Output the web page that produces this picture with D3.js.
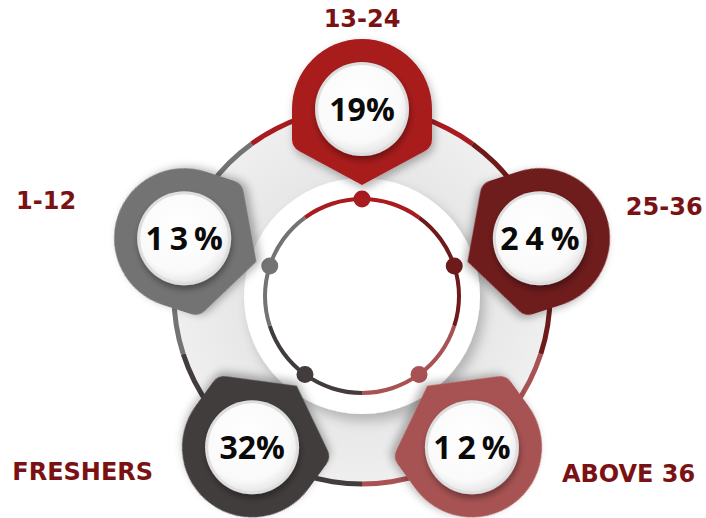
<!DOCTYPE html>
<html>
<head>
<meta charset="utf-8">
<script src="https://cdn.jsdelivr.net/npm/d3@7"></script>
<style>
  html, body { margin: 0; padding: 0; background: #fff; }
  svg { display: block; }
</style>
</head>
<body>
<script>
//============ data =========//
var categories = ['13-24', '25-36', 'ABOVE 36', 'FRESHERS', '1-12'];
var values = [19, 24, 12, 32, 13];

//============ styles / layout =========//
var colors = ['#a81b1e', '#6e1a1a', '#a85253', '#433c3c', '#737373'],
  labelColor = '#7a1214',
  pctSpacing = [0, 7, 6, 0, 6];

// label anchor offsets from badge centre (layout only)
var labelPos = [
  {dx: 0, dy: -91, anchor: 'middle'},
  {dx: 86, dy: -32, anchor: 'start'},
  {dx: 90, dy: 26, anchor: 'start'},
  {dx: -99, dy: 24, anchor: 'end'},
  {dx: -108, dy: -38, anchor: 'end'}
];

var width = 706, height = 518,
  cx = 362, cy = 296,
  ringR = 188,     // outer thin ring, badges sit on it
  discR = 118,     // white inner disc
  innerR = 97,     // inner thin ring with dots
  badgeR = 70,
  whiteR = 44;

var rad = Math.PI / 180;

// angle scale: each category gets a 72deg band, starting at the top
var angle = d3.scaleBand()
  .domain(categories)
  .range([-36, 324]);   // degrees, clockwise from 12 o'clock

function mid(c) { return angle(c) + angle.bandwidth() / 2; }
function pos(c, r) {
  var a = (mid(c) - 90) * rad;
  return [cx + r * Math.cos(a), cy + r * Math.sin(a)];
}

var svg = d3.select('body').append('svg')
  .attr('width', width)
  .attr('height', height);

var defs = svg.append('defs');

var sh = defs.append('filter').attr('id', 'shadow')
  .attr('x', '-30%').attr('y', '-30%').attr('width', '160%').attr('height', '160%');
sh.append('feDropShadow').attr('dx', 2).attr('dy', 4).attr('stdDeviation', 4)
  .attr('flood-color', '#000').attr('flood-opacity', 0.3);

var sh2 = defs.append('filter').attr('id', 'discShadow')
  .attr('x', '-30%').attr('y', '-30%').attr('width', '160%').attr('height', '160%');
sh2.append('feDropShadow').attr('dx', 5).attr('dy', 7).attr('stdDeviation', 6)
  .attr('flood-color', '#000').attr('flood-opacity', 0.22);

var sh3 = defs.append('filter').attr('id', 'btnShadow')
  .attr('x', '-30%').attr('y', '-30%').attr('width', '160%').attr('height', '160%');
sh3.append('feDropShadow').attr('dx', 1).attr('dy', 4).attr('stdDeviation', 3)
  .attr('flood-color', '#000').attr('flood-opacity', 0.35);

var wg = defs.append('radialGradient').attr('id', 'btnGrad')
  .attr('cx', '45%').attr('cy', '40%').attr('r', '60%');
wg.append('stop').attr('offset', '0%').attr('stop-color', '#ffffff');
wg.append('stop').attr('offset', '80%').attr('stop-color', '#fafafa');
wg.append('stop').attr('offset', '100%').attr('stop-color', '#e9e9e9');

var bg = defs.append('radialGradient').attr('id', 'bigDisc')
  .attr('cx', '50%').attr('cy', '50%').attr('r', '50%');
bg.append('stop').attr('offset', '60%').attr('stop-color', '#e6e6e6');
bg.append('stop').attr('offset', '100%').attr('stop-color', '#efefef');

var g = svg.append('g').attr('transform', 'translate(' + cx + ',' + cy + ')');

// big light disc
g.append('circle').attr('r', ringR).attr('fill', 'url(#bigDisc)');

// outer ring segments
var ringArc = d3.arc().innerRadius(ringR - 2.5).outerRadius(ringR + 2.5);
g.selectAll('.outer-seg')
  .data(categories)
  .enter().append('path')
  .attr('class', 'outer-seg')
  .attr('d', function(c) {
    return ringArc({startAngle: angle(c) * rad, endAngle: (angle(c) + angle.bandwidth()) * rad});
  })
  .attr('fill', function(c, i) { return colors[i]; });

// white disc
g.append('circle').attr('r', discR).attr('fill', '#fff').attr('filter', 'url(#discShadow)');

// inner ring segments
var innerArc = d3.arc().innerRadius(innerR - 2).outerRadius(innerR + 2);
g.selectAll('.inner-seg')
  .data(categories)
  .enter().append('path')
  .attr('class', 'inner-seg')
  .attr('d', function(c) {
    return innerArc({startAngle: angle(c) * rad, endAngle: (angle(c) + angle.bandwidth()) * rad});
  })
  .attr('fill', function(c, i) { return colors[i]; });

// dots on inner ring
g.selectAll('.dot')
  .data(categories)
  .enter().append('circle')
  .attr('class', 'dot')
  .attr('cx', function(c) { return pos(c, innerR)[0] - cx; })
  .attr('cy', function(c) { return pos(c, innerR)[1] - cy; })
  .attr('r', 8.5)
  .attr('fill', function(c, i) { return colors[i]; });

// badge shape, pointer along +y (towards centre after rotation)
var R = badgeR;
var badgePath = 'M' + (-R) + ',0' +
  'A' + R + ',' + R + ' 0 0 1 ' + R + ',0' +
  'L' + R + ',30' +
  'Q' + R + ',38 ' + (R - 7) + ',42' +
  'L0,76' +
  'L' + (-R + 7) + ',42' +
  'Q' + (-R) + ',38 ' + (-R) + ',30Z';

var badges = svg.selectAll('.badge')
  .data(categories)
  .enter().append('g')
  .attr('class', 'badge')
  .attr('transform', function(c) {
    var p = pos(c, ringR - 1);
    return 'translate(' + p[0] + ',' + p[1] + ')';
  });

badges.append('path')
  .attr('d', badgePath)
  .attr('transform', function(c) { return 'rotate(' + mid(c) + ')'; })
  .attr('fill', function(c, i) { return colors[i]; })
  .attr('filter', 'url(#shadow)');

badges.append('circle')
  .attr('r', whiteR + 3)
  .attr('fill', '#dedede')
  .attr('filter', 'url(#btnShadow)');

badges.append('circle')
  .attr('r', whiteR)
  .attr('fill', 'url(#btnGrad)');

badges.append('text')
  .attr('text-anchor', 'middle')
  .attr('dy', '0.36em')
  .attr('dx', function(c, i) { return pctSpacing[i] / 2; })
  .style('letter-spacing', function(c, i) { return pctSpacing[i] + 'px'; })
  .style('font-family', '"Open Sans", sans-serif')
  .style('font-weight', 700)
  .style('font-size', '32px')
  .attr('fill', '#0a0a0a')
  .text(function(c, i) { return values[i] + '%'; });

// category labels
badges.append('text')
  .attr('x', function(c, i) { return labelPos[i].dx; })
  .attr('y', function(c, i) { return labelPos[i].dy; })
  .attr('dy', '0.36em')
  .attr('text-anchor', function(c, i) { return labelPos[i].anchor; })
  .style('font-family', '"DejaVu Sans", sans-serif')
  .style('font-weight', 700)
  .style('font-size', '24px')
  .attr('fill', labelColor)
  .text(function(c) { return c; });
</script>
</body>
</html>
